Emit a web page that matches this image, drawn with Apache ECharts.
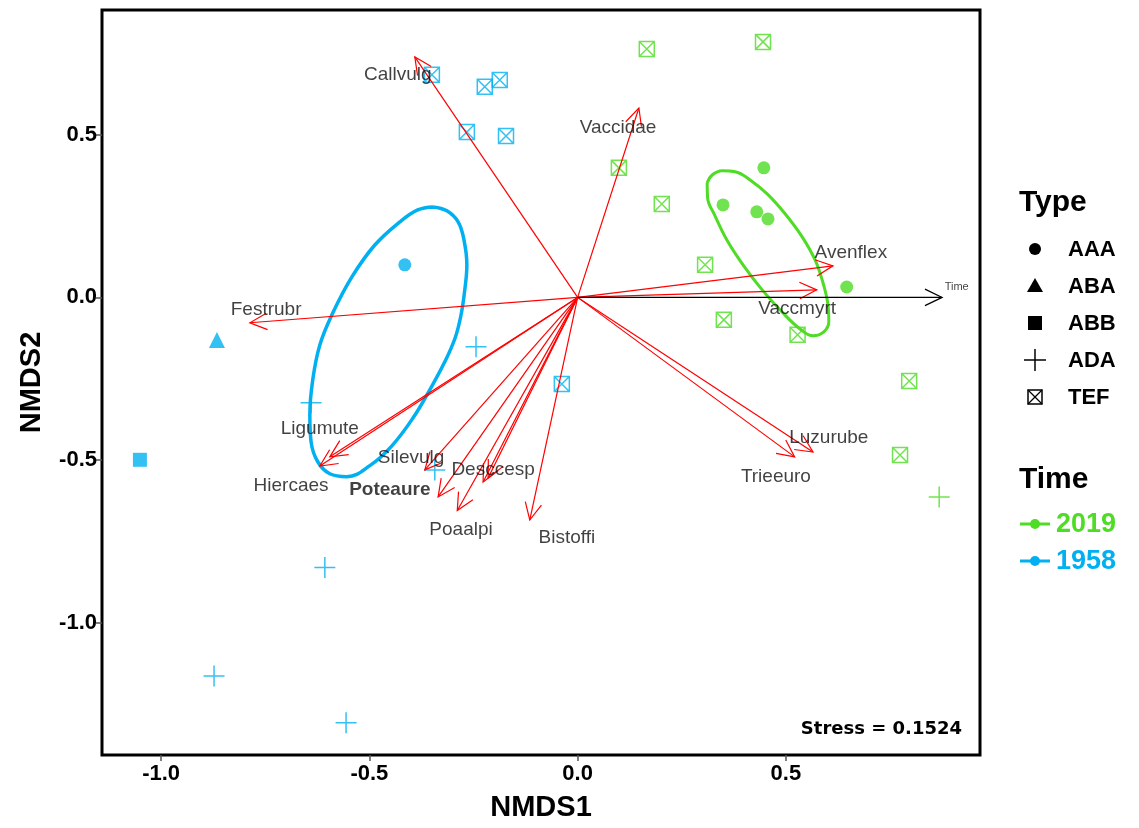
<!DOCTYPE html>
<html>
<head>
<meta charset="utf-8">
<script src="https://cdn.jsdelivr.net/npm/echarts@6/dist/echarts.min.js"></script>
<style>html,body{margin:0;padding:0;background:#fff}#c{width:1139px;height:828px}</style>
</head>
<body>
<div id="c"></div>
<script>
// ---- data (NMDS coordinates) ----
const tickValues = [-1.0, -0.5, 0.0, 0.5];

// 1958 (blue) sites by type
const b_AAA = [[-0.415, 0.100]];
const b_ABA = [[-0.866, -0.131]];
const b_ABB = [[-1.051, -0.499]];
const b_ADA = [[-0.244, -0.152], [-0.640, -0.324], [-0.343, -0.530], [-0.607, -0.830], [-0.873, -1.163], [-0.556, -1.307]];
const b_TEF = [[-0.350, 0.684], [-0.223, 0.647], [-0.187, 0.668], [-0.266, 0.508], [-0.172, 0.496], [-0.038, -0.266]];

// 2019 (green) sites by type
const g_AAA = [[0.447, 0.398], [0.349, 0.284], [0.430, 0.263], [0.457, 0.241], [0.646, 0.032]];
const g_ADA = [[0.868, -0.613]];
const g_TEF = [[0.166, 0.763], [0.445, 0.785], [0.099, 0.398], [0.202, 0.287], [0.306, 0.100], [0.351, -0.069], [0.528, -0.115], [0.796, -0.257], [0.774, -0.484]];

// ellipse outlines
const ell1958 = [[-0.347,0.278],[-0.314,0.266],[-0.287,0.232],[-0.273,0.177],[-0.266,0.100],[-0.271,0.023],[-0.280,-0.054],[-0.294,-0.124],[-0.319,-0.198],[-0.355,-0.284],[-0.395,-0.370],[-0.446,-0.456],[-0.499,-0.517],[-0.554,-0.551],[-0.595,-0.542],[-0.624,-0.505],[-0.640,-0.444],[-0.643,-0.361],[-0.636,-0.253],[-0.619,-0.146],[-0.588,-0.048],[-0.542,0.063],[-0.487,0.161],[-0.427,0.232],[-0.384,0.269],[-0.347,0.278]];
const ell2019 = [[0.311,0.352],[0.323,0.376],[0.347,0.389],[0.378,0.386],[0.414,0.361],[0.455,0.318],[0.498,0.257],[0.539,0.186],[0.570,0.115],[0.589,0.045],[0.601,-0.023],[0.603,-0.075],[0.591,-0.106],[0.565,-0.118],[0.534,-0.097],[0.493,-0.048],[0.443,0.023],[0.397,0.100],[0.358,0.177],[0.329,0.253],[0.312,0.306],[0.311,0.352]];

// species vectors (envfit arrows)
const spNames = ['Callvulg','Vaccidae','Avenflex','Vaccmyrt','Festrubr','Ligumute','Hiercaes','Silevulg','Poteaure','Poaalpi','Desccesp','','Bistoffi','Luzurube','Trieeuro'];
const spX = [-0.391, 0.147, 0.613, 0.574, -0.787, -0.595, -0.619, -0.367, -0.335, -0.289, -0.227, -0.215, -0.115, 0.565, 0.521];
const spY = [0.739, 0.582, 0.097, 0.023, -0.078, -0.490, -0.518, -0.530, -0.613, -0.655, -0.567, -0.555, -0.684, -0.475, -0.490];
const labX = [-0.432, 0.097, 0.656, 0.527, -0.748, -0.619, -0.688, -0.400, -0.451, -0.280, -0.203, 0, -0.026, 0.603, 0.476];
const labY = [0.684, 0.521, 0.137, -0.035, -0.038, -0.404, -0.579, -0.493, -0.591, -0.714, -0.530, 0, -0.739, -0.432, -0.551];

// environmental vector
const timeVec = [0.875, 0.0];
const timeLab = [0.910, 0.032];

const stressText = 'Stress = 0.1524';
const typeNames = ['AAA', 'ABA', 'ABB', 'ADA', 'TEF'];
const timeNames = ['2019', '1958'];

// ---- styling ----
const BLUE = '#00B0F0';
const GREEN = '#4FDC24';
const RED = '#FF0000';
const PLUS = 'path://M10,0 L10,20 M0,10 L20,10';
const TEFSYM = 'path://M0,0 L20,0 L20,20 L0,20 Z M0,0 L20,20 M20,0 L0,20';

function arrowSeries(data, color, width) {
  return {
    type: 'custom', z: 5,
    data: data,
    renderItem: function (params, api) {
      const o = api.coord([0, 0]);
      const t = api.coord([api.value(0), api.value(1)]);
      const ang = Math.atan2(t[1] - o[1], t[0] - o[0]);
      const L = 19, a = Math.PI / 7;
      const h1 = [t[0] - L * Math.cos(ang - a), t[1] - L * Math.sin(ang - a)];
      const h2 = [t[0] - L * Math.cos(ang + a), t[1] - L * Math.sin(ang + a)];
      return {
        type: 'group',
        children: [
          { type: 'line', shape: { x1: o[0], y1: o[1], x2: t[0], y2: t[1] }, style: { stroke: color, lineWidth: width } },
          { type: 'polyline', shape: { points: [h1, t, h2] }, style: { stroke: color, fill: null, lineWidth: width } }
        ]
      };
    }
  };
}

function pts(data, symbol, size, color, stroked) {
  return {
    type: 'scatter', z: 4, data: data, symbol: symbol, symbolSize: size,
    itemStyle: stroked ? { color: 'rgba(0,0,0,0)', borderColor: color, borderWidth: 1.5 } : { color: color },
    emphasis: { disabled: true }
  };
}

const spData = spX.map((x, i) => [x, spY[i]]);
const labData = labX.map((x, i) => ({ value: [x, labY[i]], name: spNames[i] })).filter(d => d.name)
  .map(d => d.name === 'Poteaure' ? Object.assign({}, d, { label: { fontWeight: 'bold' } }) : d);

const chart = echarts.init(document.getElementById('c'), null, { renderer: 'canvas' });

const legendX = 1035, legendText = 1068;
const typeY = [249, 286, 323, 360, 397];
const legendGraphics = [
  { type: 'text', left: 1019, top: 188, style: { text: 'Type', font: 'bold 30px "Liberation Sans", Arial', fill: '#000' } },
  { type: 'text', left: 1019, top: 465, style: { text: 'Time', font: 'bold 30px "Liberation Sans", Arial', fill: '#000' } },
  { type: 'circle', shape: { cx: legendX, cy: typeY[0], r: 6 }, style: { fill: '#000' } },
  { type: 'polygon', shape: { points: [[legendX - 8, typeY[1] + 6], [legendX + 8, typeY[1] + 6], [legendX, typeY[1] - 8]] }, style: { fill: '#000' } },
  { type: 'rect', shape: { x: legendX - 7, y: typeY[2] - 7, width: 14, height: 14 }, style: { fill: '#000' } },
  { type: 'polyline', shape: { points: [[legendX - 11, typeY[3]], [legendX + 11, typeY[3]]] }, style: { stroke: '#000', lineWidth: 1.5 } },
  { type: 'polyline', shape: { points: [[legendX, typeY[3] - 11], [legendX, typeY[3] + 11]] }, style: { stroke: '#000', lineWidth: 1.5 } },
  { type: 'rect', shape: { x: legendX - 7, y: typeY[4] - 7, width: 14, height: 14 }, style: { fill: null, stroke: '#000', lineWidth: 1.5 } },
  { type: 'polyline', shape: { points: [[legendX - 7, typeY[4] - 7], [legendX + 7, typeY[4] + 7]] }, style: { stroke: '#000', lineWidth: 1.2 } },
  { type: 'polyline', shape: { points: [[legendX + 7, typeY[4] - 7], [legendX - 7, typeY[4] + 7]] }, style: { stroke: '#000', lineWidth: 1.2 } }
];
typeNames.forEach((n, i) => {
  legendGraphics.push({ type: 'text', left: legendText, top: typeY[i] - 10, style: { text: n, font: 'bold 22px "Liberation Sans", Arial', fill: '#000' } });
});
const timeY = [524, 561];
const timeCol = [GREEN, BLUE];
timeNames.forEach((n, i) => {
  legendGraphics.push({ type: 'polyline', shape: { points: [[1020, timeY[i]], [1050, timeY[i]]] }, style: { stroke: timeCol[i], lineWidth: 3 } });
  legendGraphics.push({ type: 'circle', shape: { cx: 1035, cy: timeY[i], r: 5 }, style: { fill: timeCol[i] } });
  legendGraphics.push({ type: 'text', left: 1056, top: timeY[i] - 13, style: { text: n, font: 'bold 27px "Liberation Sans", Arial', fill: timeCol[i] } });
});
legendGraphics.push({ type: 'text', right: 177, top: 720, style: { text: stressText, font: 'bold 18px "DejaVu Sans", Verdana', fill: '#000' } });

const option = {
  backgroundColor: '#fff',
  animation: false,
  grid: { left: 102, right: 159, top: 10, bottom: 73, show: true, borderColor: '#000', borderWidth: 3, backgroundColor: '#fff' },
  xAxis: {
    type: 'value', min: -1.142, max: 0.966,
    name: 'NMDS1', nameLocation: 'middle', nameGap: 38,
    nameTextStyle: { fontFamily: '"Liberation Sans", Arial', fontWeight: 'bold', fontSize: 29, color: '#000' },
    axisLine: { show: false, onZero: false },
    splitLine: { show: false },
    axisTick: { show: true, length: 6, lineStyle: { color: '#555', width: 1.5 }, customValues: tickValues },
    axisLabel: { customValues: tickValues, formatter: v => v.toFixed(1), fontFamily: '"Liberation Sans", Arial', fontWeight: 'bold', fontSize: 22, color: '#000', margin: 8 }
  },
  yAxis: {
    type: 'value', min: -1.406, max: 0.883,
    name: 'NMDS2', nameLocation: 'middle', nameGap: 56, nameRotate: 90,
    nameTextStyle: { fontFamily: '"Liberation Sans", Arial', fontWeight: 'bold', fontSize: 29, color: '#000' },
    axisLine: { show: false, onZero: false },
    splitLine: { show: false },
    axisTick: { show: true, length: 6, lineStyle: { color: '#555', width: 1.5 }, customValues: tickValues },
    axisLabel: { customValues: tickValues, formatter: v => v.toFixed(1), fontFamily: '"Liberation Sans", Arial', fontWeight: 'bold', fontSize: 22, color: '#000', margin: 5 }
  },
  graphic: legendGraphics,
  series: [
    { type: 'line', data: ell1958, smooth: 0.4, symbol: 'none', lineStyle: { color: BLUE, width: 3.5 }, z: 3 },
    { type: 'line', data: ell2019, smooth: 0.4, symbol: 'none', lineStyle: { color: GREEN, width: 3 }, z: 3 },
    pts(b_AAA, 'circle', 13, BLUE, false),
    pts(b_ABA, 'triangle', 16, BLUE, false),
    pts(b_ABB, 'rect', 14, BLUE, false),
    pts(b_ADA, PLUS, 21, BLUE, true),
    pts(b_TEF, TEFSYM, 15, BLUE, true),
    pts(g_AAA, 'circle', 13, GREEN, false),
    pts(g_ADA, PLUS, 21, GREEN, true),
    pts(g_TEF, TEFSYM, 15, GREEN, true),
    arrowSeries(spData, RED, 1.2),
    arrowSeries([timeVec], '#000', 1.2),
    {
      type: 'scatter', z: 6, symbolSize: 0, data: labData,
      label: { show: true, position: 'inside', formatter: p => p.name, fontFamily: '"Liberation Sans", Arial', fontSize: 19, color: '#111' },
      emphasis: { disabled: true }
    },
    {
      type: 'scatter', z: 6, symbolSize: 0, data: [{ value: timeLab, name: 'Time' }],
      label: { show: true, position: 'inside', formatter: 'Time', fontFamily: '"Liberation Sans", Arial', fontSize: 11, color: '#111' },
      emphasis: { disabled: true }
    }
  ]
};
chart.setOption(option);
</script>
</body>
</html>
